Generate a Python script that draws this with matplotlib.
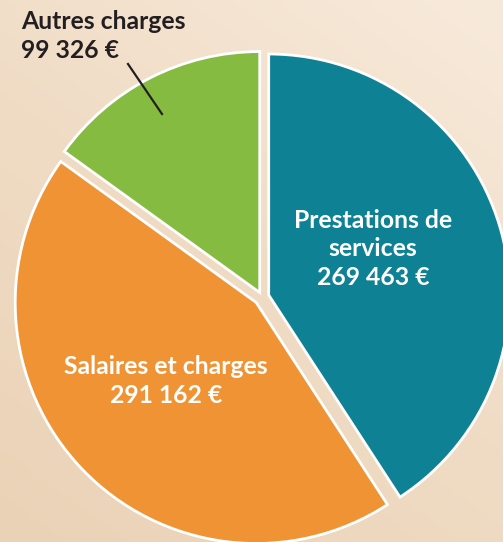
import numpy as np
import matplotlib.pyplot as plt
from matplotlib.colors import LinearSegmentedColormap

# Données
labels = ["Prestations de\nservices", "Salaires et charges", "Autres charges"]
values = [269463, 291162, 99326]
colors = ["#0e8194", "#f09334", "#86bb42"]
explode = [7, 8, 5]   # en pixels (centre donné en pixels)

W, H = 503, 542

def fmt(v):
    return f"{v:,}".replace(",", " ") + " €"

plt.rcParams['font.family'] = ['Lato', 'DejaVu Sans']

fig = plt.figure(figsize=(W / 100, H / 100), dpi=100)
ax = fig.add_axes([0, 0, 1, 1])

# fond beige dégradé
yy, xx = np.mgrid[0:1:200j, 0:1:200j]
grad = 0.6 * (1 - yy) + 0.4 * (1 - xx)
cmap = LinearSegmentedColormap.from_list("bg", ["#f8eadb", "#f0dcc5", "#ead2b6"])
ax.imshow(grad, cmap=cmap, extent=[0, W, 0, H], origin='lower', aspect='auto', zorder=0)

# camembert
ax.pie(values, colors=colors, explode=explode, startangle=90, counterclock=False,
       center=(262, H - 297), radius=241, frame=True,
       wedgeprops=dict(edgecolor='white', linewidth=2))
ax.set_xlim(0, W)
ax.set_ylim(0, H)
ax.set_aspect('auto')
ax.axis('off')

# étiquettes
ax.text(373, H - 249, labels[0] + "\n" + fmt(values[0]), color='white', fontsize=17.8,
        fontweight='bold', ha='center', va='center', linespacing=1.3)
ax.text(166, H - 381, labels[1] + "\n" + fmt(values[1]), color='white', fontsize=17.8,
        fontweight='bold', ha='center', va='center', linespacing=1.3)
ax.text(21, H - 36, labels[2] + "\n" + fmt(values[2]), color='#231f20', fontsize=17.8,
        fontweight='bold', ha='left', va='center', linespacing=1.3)
ax.plot([128, 162], [H - 64, H - 114], color='#231f20', lw=1.6)

fig.savefig("out.png", dpi=100)
